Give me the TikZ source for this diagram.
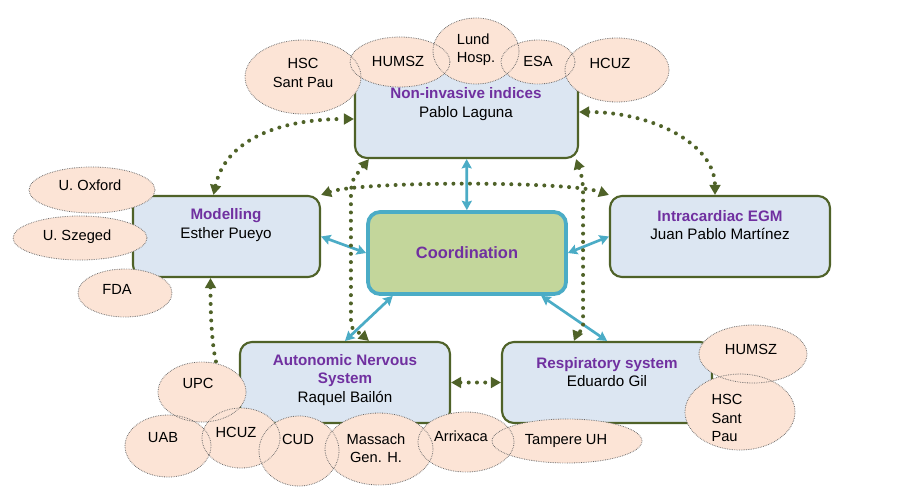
\documentclass[tikz,border=0pt]{standalone}
\usepackage{fontspec}
\setmainfont{Liberation Sans}
\usetikzlibrary{arrows.meta,shapes.geometric}
\newcommand\pxu{0.75pt}
\definecolor{boxfill}{HTML}{DCE6F2}
\definecolor{boxline}{HTML}{4F6228}
\definecolor{coordfill}{HTML}{C3D69B}
\definecolor{coordline}{HTML}{4BACC6}
\definecolor{titlepurple}{HTML}{7030A0}
\definecolor{ellfillc}{HTML}{FCE4D6}
\definecolor{elldraw}{HTML}{666666}
\tikzset{
  box/.style={draw=boxline, line width=1.6pt, fill=boxfill, rounded corners=9pt, inner sep=0pt},
  coordbox/.style={draw=coordline, line width=2.8pt, fill=coordfill, rounded corners=9pt, inner sep=0pt},
  boxtext/.style={align=center, inner sep=0pt, font=\fontsize{11.4}{14}\selectfont},
  elltext/.style={inner sep=0pt, font=\fontsize{11}{13.6}\selectfont},
  ellfill/.style={ellipse, fill=ellfillc, inner sep=0pt},
  ellborder/.style={draw=elldraw, line width=0.6pt, dash pattern=on 0.5pt off 0.8pt},
  gdot/.style={draw=boxline, line width=3pt, line cap=round, dash pattern=on 0pt off 6.2pt,
    arrows={Triangle[length=7.5pt,width=8pt]-Triangle[length=7.5pt,width=8pt]}},
  barrow/.style={draw=coordline, line width=2pt,
    arrows={Stealth[length=7pt,width=7.5pt,inset=1pt]-Stealth[length=7pt,width=7.5pt,inset=1pt]}}
}
\newcommand\ttl[1]{\textcolor{titlepurple}{\bfseries #1}}
\begin{document}
\begin{tikzpicture}[x=0.75pt,y=-0.75pt]
\useasboundingbox (0,0) rectangle (900,500);
\path[fill=white] (0,0) rectangle (900,500);

% boxes
\node[box, minimum width=223*\pxu, minimum height=86*\pxu] (ni) at (466.5,115) {};
\node[box, minimum width=187*\pxu, minimum height=81*\pxu] (mod) at (226.5,236.5) {};
\node[coordbox, minimum width=198*\pxu, minimum height=82*\pxu] (coord) at (467,253) {};
\node[box, minimum width=220*\pxu, minimum height=81*\pxu] (intra) at (720,236.5) {};
\node[box, minimum width=210*\pxu, minimum height=81*\pxu] (ans) at (345,382.5) {};
\node[box, minimum width=210*\pxu, minimum height=81*\pxu] (resp) at (607,382.5) {};

% box texts
\node[boxtext] (tni) at (466,104) {\ttl{Non-invasive indices}\\Pablo Laguna};
\node[boxtext] (tmod) at (226,225) {\ttl{Modelling}\\Esther Pueyo};
\node[boxtext, font=\fontsize{12.3}{14}\selectfont] (tcoord) at (467,253) {\ttl{Coordination}};
\node[boxtext] (tintra) at (720,225) {\ttl{Intracardiac EGM}\\Juan Pablo Martínez};
\node[boxtext] (tans) at (345,380) {\ttl{Autonomic Nervous}\\\ttl{System}\\Raquel Bailón};
\node[boxtext] (tresp) at (607,372) {\ttl{Respiratory system}\\Eduardo Gil};

% blue arrows
\draw[barrow] (coord) -- (ni);
\draw[barrow] (coord.west) -- (mod.east);
\draw[barrow] (coord.east) -- (intra.west);
\draw[barrow] (coord.-150) -- (ans.north);
\draw[barrow] (coord.-30) -- (resp.north);

% green dotted arrows
\draw[gdot] ([xshift=-13*\pxu]mod.north) .. controls +(12,-55) and +(-75,0) .. ([yshift=-4*\pxu]ni.west);
\draw[gdot] ([yshift=3*\pxu]ni.east) .. controls +(75,0) and +(0,-50) .. ([xshift=-5*\pxu]intra.north);
\draw[gdot] (mod.north east) .. controls +(40,-14) and +(-40,-14) .. (intra.north west);
\draw[gdot] ([xshift=15*\pxu]ni.south west) .. controls +(-16,20) and +(0,-20) .. ++(-18,40)
   -- ++(0,120) .. controls +(0,14) and +(-14,-12) .. ([xshift=130*\pxu]ans.north west);
\draw[gdot] ([xshift=-3*\pxu]ni.south east) .. controls +(5,15) and +(0,-15) .. ++(7,35)
   -- ++(0,130) .. controls +(0,12) and +(5,-12) .. ([xshift=73*\pxu]resp.north west);
\draw[gdot] ([xshift=-16*\pxu]mod.south) .. controls +(0,55) and +(-25,0) .. (ans.west);
\draw[gdot] (ans.east) -- (resp.west);

% ellipses: fills
\foreach \nm/\x/\y/\a/\b in {eA/303/77/58/37, eB/400/62/50/25, eC/476/51/43/33, eD/538/62/37/22, eE/617/70/52/32,
  eF/92/190/63/23, eG/80/238/67/22, eH/125/293/47/24,
  eI/202/392/44/30, eJ/168/446/43/31, eK/241/438/39/30, eL/299/451/40/35, eM/379/449/54/36, eN/466/442/48/30, eO/567/441/75/22,
  eP/753/354/54/29, eQ/740/412/55/38}{
  \node[ellfill, minimum width=2*\a*\pxu, minimum height=2*\b*\pxu] (\nm) at (\x,\y) {};}
% ellipses: borders
\foreach \nm/\a/\b in {eA/58/37, eB/50/25, eC/43/33, eD/37/22, eE/52/32, eF/63/23, eG/67/22, eH/47/24,
  eI/44/30, eJ/43/31, eK/39/30, eL/40/35, eM/54/36, eN/48/30, eO/75/22, eP/54/29, eQ/55/38}{
  \draw[ellborder] (\nm.center) ellipse [x radius=\a*\pxu, y radius=\b*\pxu];}

% ellipse texts
\node[elltext, align=center] (tA) at (303,73) {HSC\\Sant Pau};
\node[elltext] (tB) at (398,61) {HUMSZ};
\node[elltext, align=left] (tC) at (476,50) {Lund\\Hosp.};
\node[elltext] (tD) at (538,61) {ESA};
\node[elltext] (tE) at (610,63) {HCUZ};
\node[elltext] (tF) at (90,185) {U. Oxford};
\node[elltext] (tG) at (77,237) {U. Szeged};
\node[elltext] (tH) at (117,289) {FDA};
\node[elltext] (tI) at (198,383) {UPC};
\node[elltext] (tJ) at (163,438) {UAB};
\node[elltext] (tK) at (236,432) {HCUZ};
\node[elltext] (tL) at (298,439) {CUD};
\node[elltext, align=center] (tM) at (376,448) {Massach\\Gen. H.};
\node[elltext] (tN) at (461,436) {Arrixaca};
\node[elltext] (tO) at (566,441) {Tampere UH};
\node[elltext] (tP) at (751,349) {HUMSZ};
\node[elltext, align=left] (tQ) at (727,418) {HSC\\Sant\\Pau};
\end{tikzpicture}
\end{document}
